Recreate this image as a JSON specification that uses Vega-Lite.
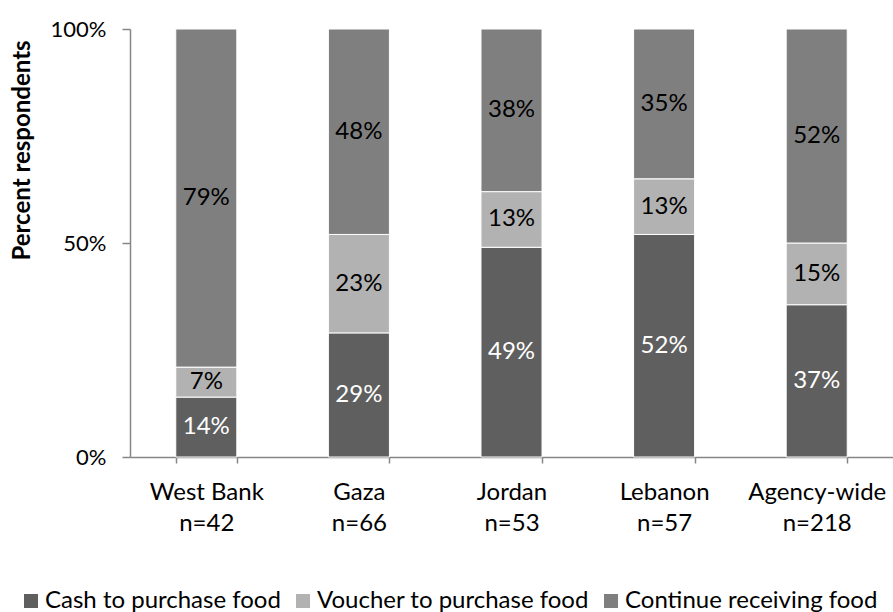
{
  "$schema": "https://vega.github.io/schema/vega-lite/v6.json",
  "autosize": {"type": "none"},
  "padding": {"left": 130, "top": 29, "right": 0, "bottom": 155},
  "width": 763,
  "height": 428,
  "background": "white",
  "config": {
    "font": "Lato",
    "view": {"stroke": null},
    "axis": {"labelFont": "Lato", "titleFont": "Lato", "labelColor": "black", "titleColor": "black"}
  },
  "data": {
    "values": [
      {"region": "West Bank|n=42", "cat": "Cash to purchase food", "ord": 1, "v": 0.14},
      {"region": "West Bank|n=42", "cat": "Voucher to purchase food", "ord": 2, "v": 0.07},
      {"region": "West Bank|n=42", "cat": "Continue receiving food", "ord": 3, "v": 0.79},
      {"region": "Gaza|n=66", "cat": "Cash to purchase food", "ord": 1, "v": 0.29},
      {"region": "Gaza|n=66", "cat": "Voucher to purchase food", "ord": 2, "v": 0.23},
      {"region": "Gaza|n=66", "cat": "Continue receiving food", "ord": 3, "v": 0.48},
      {"region": "Jordan|n=53", "cat": "Cash to purchase food", "ord": 1, "v": 0.49},
      {"region": "Jordan|n=53", "cat": "Voucher to purchase food", "ord": 2, "v": 0.13},
      {"region": "Jordan|n=53", "cat": "Continue receiving food", "ord": 3, "v": 0.38},
      {"region": "Lebanon|n=57", "cat": "Cash to purchase food", "ord": 1, "v": 0.52},
      {"region": "Lebanon|n=57", "cat": "Voucher to purchase food", "ord": 2, "v": 0.13},
      {"region": "Lebanon|n=57", "cat": "Continue receiving food", "ord": 3, "v": 0.35},
      {"region": "Agency-wide|n=218", "cat": "Cash to purchase food", "ord": 1, "v": 0.37},
      {"region": "Agency-wide|n=218", "cat": "Voucher to purchase food", "ord": 2, "v": 0.15},
      {"region": "Agency-wide|n=218", "cat": "Continue receiving food", "ord": 3, "v": 0.52}
    ]
  },
  "transform": [
    {"stack": "v", "groupby": ["region"], "sort": [{"field": "ord", "order": "ascending"}], "offset": "normalize", "as": ["y0", "y1"]}
  ],
  "encoding": {
    "x": {
      "field": "region", "type": "nominal", "sort": null,
      "scale": {"paddingInner": 0.6, "paddingOuter": 0.3},
      "axis": {
        "title": null, "labelAngle": 0, "labelExpr": "datum.value ? split(datum.value, '|') : ''",
        "labelFontSize": 24, "labelLineHeight": 31, "labelPadding": 17,
        "tickBand": "extent", "tickSize": 6, "tickColor": "#868686", "tickWidth": 1.5,
        "domainColor": "#868686", "domainWidth": 1.5
      }
    }
  },
  "layer": [
    {
      "mark": {"type": "bar", "stroke": "white", "strokeWidth": 1},
      "encoding": {
        "y": {
          "field": "y0", "type": "quantitative",
          "scale": {"domain": [0, 1], "nice": false},
          "axis": {
            "title": "Percent respondents", "titleFontSize": 24, "titleFontWeight": "bold",
            "titlePadding": 16, "titleY": 121, "titleAnchor": "middle",
            "values": [0, 0.5, 1], "format": ".0%", "labelFontSize": 22, "labelPadding": 16,
            "tickSize": 8, "tickColor": "#868686", "tickWidth": 1.5,
            "domainColor": "#868686", "domainWidth": 1.5, "grid": false
          }
        },
        "y2": {"field": "y1"},
        "color": {
          "field": "cat", "type": "nominal",
          "scale": {
            "domain": ["Cash to purchase food", "Voucher to purchase food", "Continue receiving food"],
            "range": ["#5f5f5f", "#b2b2b2", "#7f7f7f"]
          },
          "legend": {
            "title": null, "orient": "none", "direction": "horizontal",
            "legendX": -111, "legendY": 560,
            "symbolType": "square", "symbolSize": 196, "symbolStrokeWidth": 0, "symbolOpacity": 1,
            "labelFontSize": 24, "labelColor": "black", "labelOffset": 2, "columnPadding": 10, "labelLimit": 400
          }
        }
      }
    },
    {
      "transform": [
        {"fold": ["y0", "y1"], "as": ["edge", "pos"]},
        {"aggregate": [{"op": "mean", "field": "pos", "as": "mid"}], "groupby": ["region", "cat", "v"]}
      ],
      "mark": {"type": "text", "fontSize": 24, "baseline": "middle", "align": "center"},
      "encoding": {
        "y": {"field": "mid", "type": "quantitative"},
        "text": {"field": "v", "type": "quantitative", "format": ".0%"},
        "color": {
          "condition": {"test": "datum.cat === 'Cash to purchase food'", "value": "white"},
          "value": "black"
        }
      }
    }
  ]
}
